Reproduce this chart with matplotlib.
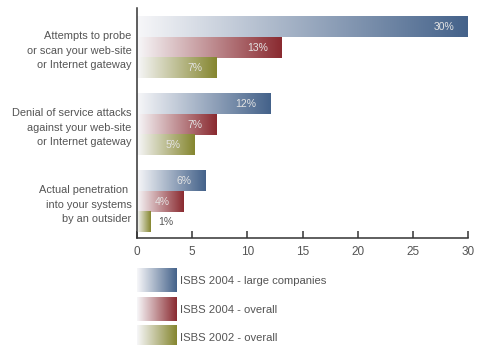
import numpy as np
import matplotlib
matplotlib.use("Agg")
import matplotlib.pyplot as plt
from matplotlib.colors import LinearSegmentedColormap

plt.rcParams['font.family'] = ['Liberation Sans', 'DejaVu Sans']

categories = [
    "Attempts to probe\nor scan your web-site\nor Internet gateway",
    "Denial of service attacks\nagainst your web-site\nor Internet gateway",
    "Actual penetration \ninto your systems\nby an outsider",
]
series_names = ["ISBS 2004 - large companies", "ISBS 2004 - overall", "ISBS 2002 - overall"]
large_2004 = [30.0, 12.1, 6.2]
overall_2004 = [13.1, 7.2, 4.2]
overall_2002 = [7.2, 5.2, 1.2]
labels_large = ["30%", "12%", "6%"]
labels_2004 = ["13%", "7%", "4%"]
labels_2002 = ["7%", "5%", "1%"]
series = [large_2004, overall_2004, overall_2002]
series_labels = [labels_large, labels_2004, labels_2002]
colors = ["#44628a", "#8a2a30", "#85862f"]
xticks = [0, 5, 10, 15, 20, 25, 30]

W, H = 484, 345
fig = plt.figure(figsize=(W / 100, H / 100), dpi=100)
ax = fig.add_axes([137 / W, 1 - 238 / H, (468 - 137) / W, (238 - 8) / H])

bar_h = 20 / 77
step = 20.5 / 77
grad = np.linspace(0, 1, 256).reshape(1, -1)

def cmap_for(c):
    return LinearSegmentedColormap.from_list("g", ["#f7f7f9", c])

text_grey = "#555555"
for si, (vals, labs) in enumerate(zip(series, series_labels)):
    cm = cmap_for(colors[si])
    for ci, v in enumerate(vals):
        yc = ci + (si - 1) * step
        ax.imshow(grad, cmap=cm, aspect="auto", interpolation="bilinear",
                  extent=[0, v, yc + bar_h / 2, yc - bar_h / 2], zorder=2)
        if v > 3:
            ax.annotate(labs[ci], (v, yc), xytext=(-10, 0), textcoords="offset points",
                        ha="right", va="center", fontsize=7.5, color="#e4e4e4", zorder=3)
        else:
            ax.annotate(labs[ci], (v, yc), xytext=(6, 0), textcoords="offset points",
                        ha="left", va="center", fontsize=7.5, color=text_grey, zorder=3)

ax.set_xlim(0, 30)
ax.set_ylim(2.474, -0.513)
ax.set_yticks(range(len(categories)))
ax.set_yticklabels(categories, fontsize=7.9, color=text_grey, linespacing=1.55)
ax.tick_params(axis="y", length=0, pad=4)
ax.set_xticks(xticks)
ax.set_xticklabels([str(t) for t in xticks], fontsize=8.5, color=text_grey)
ax.tick_params(axis="x", direction="in", length=5, width=1.1, color="#333333", pad=6)
for s in ["top", "right"]:
    ax.spines[s].set_visible(False)
for s in ["left", "bottom"]:
    ax.spines[s].set_color("#333333")
    ax.spines[s].set_linewidth(1.1)

# legend drawn in pixel coordinates
lax = fig.add_axes([0, 0, 1, 1])
lax.set_xlim(0, W)
lax.set_ylim(H, 0)
lax.axis("off")
leg_tops = [268, 297, 325]
for si, name in enumerate(series_names):
    cm = cmap_for(colors[si])
    t = leg_tops[si]
    lax.imshow(grad, cmap=cm, aspect="auto", interpolation="bilinear",
               extent=[137, 177, t + 24, t])
    lax.text(180, t + 13, name, fontsize=8.1, color=text_grey, va="center", ha="left")
lax.set_xlim(0, W)
lax.set_ylim(H, 0)

fig.savefig("out.png", dpi=100)
